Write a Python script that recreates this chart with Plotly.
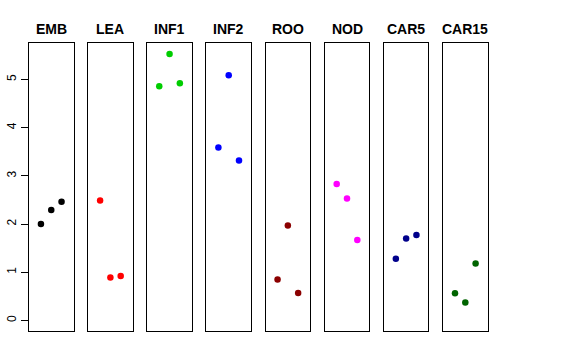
import plotly.graph_objects as go

categories = ["EMB", "LEA", "INF1", "INF2", "ROO", "NOD", "CAR5", "CAR15"]
x_positions = [1, 2, 3]
values = {
    "EMB":   [2.00, 2.29, 2.46],
    "LEA":   [2.49, 0.89, 0.92],
    "INF1":  [4.86, 5.53, 4.92],
    "INF2":  [3.59, 5.09, 3.32],
    "ROO":   [0.85, 1.97, 0.57],
    "NOD":   [2.83, 2.53, 1.67],
    "CAR5":  [1.28, 1.70, 1.77],
    "CAR15": [0.56, 0.37, 1.18],
}
colors = ["#000000", "#FF0000", "#00CD00", "#0000FF", "#8B0000", "#FF00FF", "#00008B", "#006400"]
y_ticks = [0, 1, 2, 3, 4, 5]

W, H = 576, 360
left0, step, pw = 29.0, 59.15, 44.5
ybot, ytop = 331.0, 43.3
ymax = max(max(v) for v in values.values())
ypad = 0.04 * ymax
yrange = [0 - ypad, ymax + ypad]
xrange = [-0.16, 4.16]

fig = go.Figure()
layout = dict(
    width=W, height=H,
    margin=dict(l=0, r=0, t=0, b=0, pad=0, autoexpand=False),
    paper_bgcolor="white", plot_bgcolor="white",
    showlegend=False,
    font=dict(family="Liberation Sans, Arial, sans-serif", color="black"),
)
annotations = []
for i, cat in enumerate(categories):
    n = "" if i == 0 else str(i + 1)
    xl = (left0 + i * step) / W
    xr = (left0 + i * step + pw) / W
    layout["xaxis" + n] = dict(
        domain=[xl, xr], range=xrange, showgrid=False, zeroline=False,
        showticklabels=False, ticks="", showline=True, mirror=True,
        linecolor="black", linewidth=1, anchor="y" + n, automargin=False,
    )
    yax = dict(
        domain=[(H - ybot) / H, (H - ytop) / H], range=yrange, showgrid=False,
        zeroline=False, showline=True, mirror=True, linecolor="black",
        linewidth=1, anchor="x" + n, automargin=False,
    )
    if i == 0:
        yax.update(tickvals=y_ticks, ticks="outside", ticklen=7, tickcolor="black",
                   tickangle=-90, tickfont=dict(size=12, color="black"))
    else:
        yax.update(showticklabels=False, ticks="")
    layout["yaxis" + n] = yax
    fig.add_trace(go.Scatter(
        x=x_positions, y=values[cat], mode="markers",
        marker=dict(color=colors[i], size=6.5, line=dict(width=0)),
        xaxis="x" + n, yaxis="y" + n, hoverinfo="skip",
    ))
    annotations.append(dict(
        x=(xl + xr) / 2, y=(H - 29) / H, xref="paper", yref="paper",
        text="<b>" + cat + "</b>", showarrow=False,
        font=dict(size=14, color="black"), xanchor="center", yanchor="middle",
    ))
layout["annotations"] = annotations
fig.update_layout(**layout)
fig.write_html(
    "out.html",
    config={"displayModeBar": False},
    post_script="document.body.style.margin='0';document.body.style.padding='0';",
)
